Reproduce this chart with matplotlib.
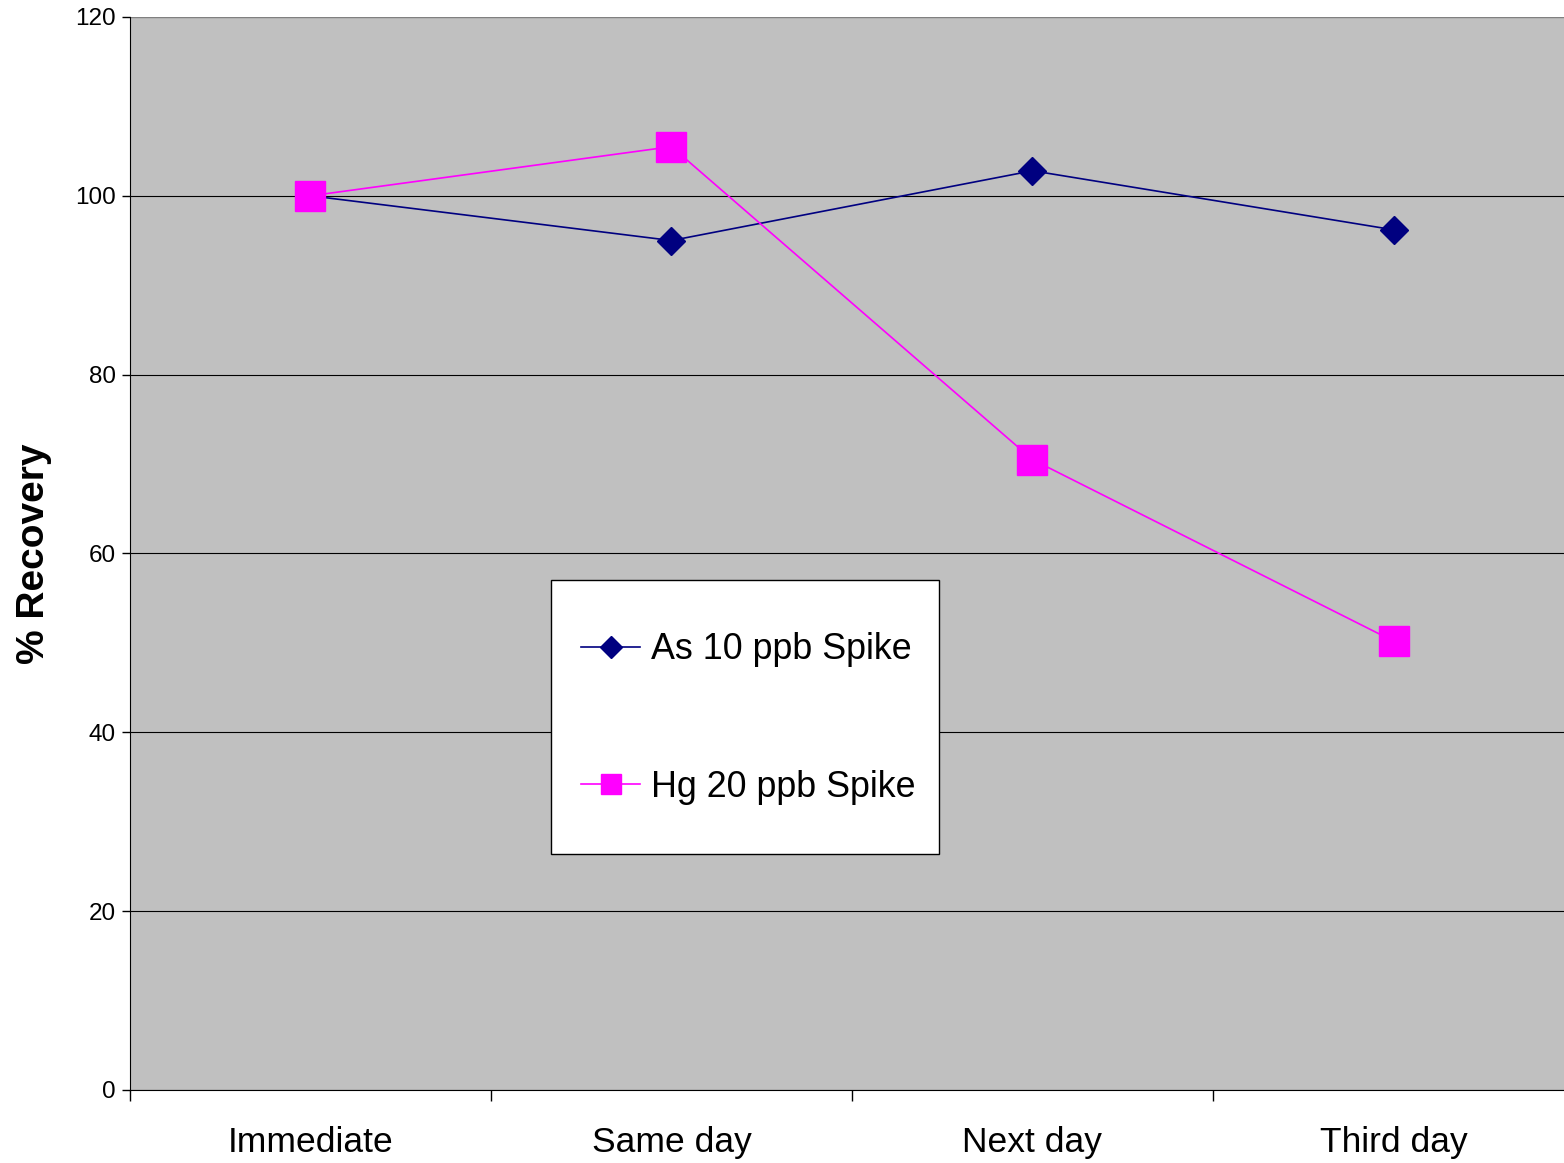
import numpy as np
import matplotlib.pyplot as plt
from matplotlib.patches import Rectangle

categories = ["Immediate", "Same day", "Next day", "Third day"]
as_spike = [100.0, 95.0, 102.8, 96.2]
hg_spike = [100.0, 105.5, 70.5, 50.2]
y_ticks = [0, 20, 40, 60, 80, 100, 120]

plt.rcParams['font.family'] = ['Liberation Sans', 'DejaVu Sans']

fig = plt.figure(figsize=(15.64, 11.63), dpi=100)
# plot area runs a little past the right edge of the picture
ax = fig.add_axes([0.0831, 0.0628, 0.9233, 0.9226])
ax.set_facecolor('#C0C0C0')

x = np.arange(len(categories))
l1, = ax.plot(x, as_spike, color='#000080', lw=1.2, marker='D', ms=14.5,
              mfc='#000080', mec='#000080', label='As 10 ppb Spike', zorder=3)
l2, = ax.plot(x, hg_spike, color='#FF00FF', lw=1.2, marker='s', ms=21,
              mfc='#FF00FF', mec='#FF00FF', label='Hg 20 ppb Spike', zorder=3)

ax.set_xlim(-0.5, 3.5)
ax.set_ylim(0, 120)
ax.set_yticks(y_ticks)
ax.yaxis.grid(True, color='black', lw=0.8)
ax.set_axisbelow(True)

# category boundaries as ticks, names centred between them
ax.set_xticks(np.arange(-0.5, 4.0, 1.0))
ax.set_xticklabels([])
ax.set_xticks(x, minor=True)
ax.set_xticklabels(categories, minor=True, fontsize=25.5)
ax.tick_params(axis='x', which='major', length=8, width=1, direction='out')
ax.tick_params(axis='x', which='minor', length=0, pad=26)
ax.tick_params(axis='y', length=6, width=1, labelsize=17.5, pad=4)

for s in ['top', 'right']:
    ax.spines[s].set_visible(False)
ax.spines['left'].set_color('black')
ax.spines['bottom'].set_color('black')
ax.axhline(120, color='#808080', lw=1.5, zorder=1)

ax.set_ylabel('% Recovery', fontsize=28, fontweight='bold', labelpad=17)

# legend box drawn separately so its padding can be taller than wide
ax.add_patch(Rectangle((0.2916, 0.2199), 0.2686, 0.2554, transform=ax.transAxes,
                       facecolor='white', edgecolor='black', lw=1.0, zorder=4))
leg = ax.legend(loc='center left', bbox_to_anchor=(0.3123, 0.3462), fontsize=25.8,
                frameon=False, handlelength=1.65, handletextpad=0.3,
                labelspacing=2.87, borderpad=0, borderaxespad=0)
leg.set_zorder(5)
for h in leg.legend_handles:
    h.set_markersize(15)
leg.legend_handles[0].set_markersize(11)

fig.savefig('out.png', dpi=100)
